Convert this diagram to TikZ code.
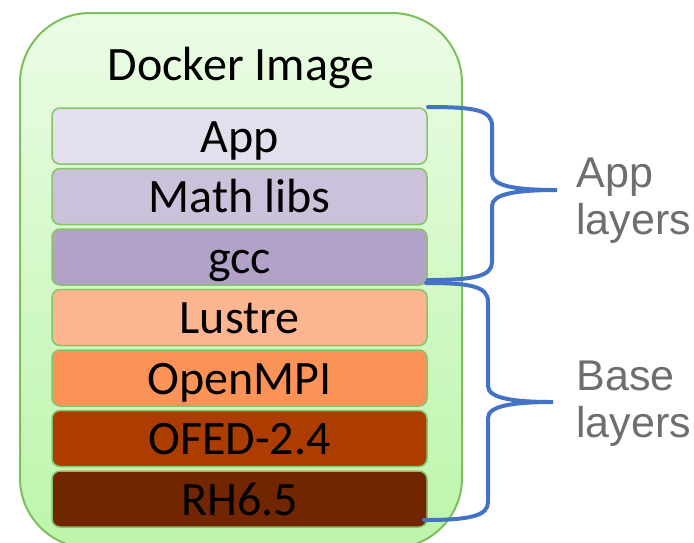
\documentclass[tikz,border=0pt]{standalone}
\usepackage{fontspec}
\setmainfont{Carlito}
\newfontfamily\sidefont{Liberation Sans}
\usetikzlibrary{positioning}

\definecolor{imgtop}{HTML}{EBFCE5}
\definecolor{imgbot}{HTML}{BCF5AA}
\definecolor{imgborder}{HTML}{7DBF5C}
\definecolor{layerborder}{HTML}{86C46A}
\definecolor{appfill}{HTML}{E4DFEC}
\definecolor{mathfill}{HTML}{CCC1DA}
\definecolor{gccfill}{HTML}{B3A2C7}
\definecolor{lustrefill}{HTML}{FCB58E}
\definecolor{mpifill}{HTML}{FB9358}
\definecolor{ofedfill}{HTML}{AD3C00}
\definecolor{rhfill}{HTML}{712600}
\definecolor{braceblue}{HTML}{4472C4}
\definecolor{sidegray}{HTML}{6E6E6E}

\tikzset{
  layer/.style={draw=layerborder, line width=0.75pt, rounded corners=4pt,
    minimum width=187.5pt, minimum height=28pt, inner sep=0pt,
    text height=18pt, text depth=2pt, font=\fontsize{24}{28}\selectfont},
  side/.style={anchor=west, align=left, inner sep=0pt, text=sidegray,
    font=\sidefont\fontsize{21.5}{23.5}\selectfont},
  brace/.style={draw=braceblue, line width=2pt, line cap=round}
}

\begin{document}
\begin{tikzpicture}[x=0.5pt,y=-0.5pt]
    \useasboundingbox (0,0) rectangle (694,542);

    % image box
    \shadedraw[top color=imgtop, bottom color=imgbot, draw=imgborder, line width=1pt,
      rounded corners=35pt] (20,13) rectangle (462,548);
    \node[font=\fontsize{24}{28}\selectfont, anchor=base] (title) at (241,80) {Docker Image};

    % layers
    \node[layer, fill=appfill] (app) at (239.5,136) {App};
    \node[layer, fill=mathfill, below=1.5pt of app] (mathlibs) {Math libs};
    \node[layer, fill=gccfill, below=1.5pt of mathlibs] (gcc) {gcc};
    \node[layer, fill=lustrefill, below=1.5pt of gcc] (lustre) {Lustre};
    \node[layer, fill=mpifill, below=1.5pt of lustre] (openmpi) {OpenMPI};
    \node[layer, fill=ofedfill, below=1.5pt of openmpi] (ofed) {OFED-2.4};
    \node[layer, fill=rhfill, below=1.5pt of ofed] (rh) {RH6.5};

    % braces
    \draw[brace] (428,107) .. controls (475,107) and (492,110) .. (492,126)
      -- (492,174) .. controls (492,186) and (515,190) .. (557,190)
      .. controls (515,190) and (492,194) .. (492,206)
      -- (492,262) .. controls (492,276) and (475,280) .. (428,280);
    \draw[brace] (426,283) .. controls (470,283) and (488,286) .. (488,302)
      -- (488,386) .. controls (488,398) and (512,402) .. (553,402)
      .. controls (512,402) and (488,406) .. (488,418)
      -- (488,502) .. controls (488,516) and (470,520) .. (424,520);

    \node[side] (applbl) at (576,201) {App\\layers};
    \node[side] (baselbl) at (576,404) {Base\\layers};
\end{tikzpicture}
\end{document}
